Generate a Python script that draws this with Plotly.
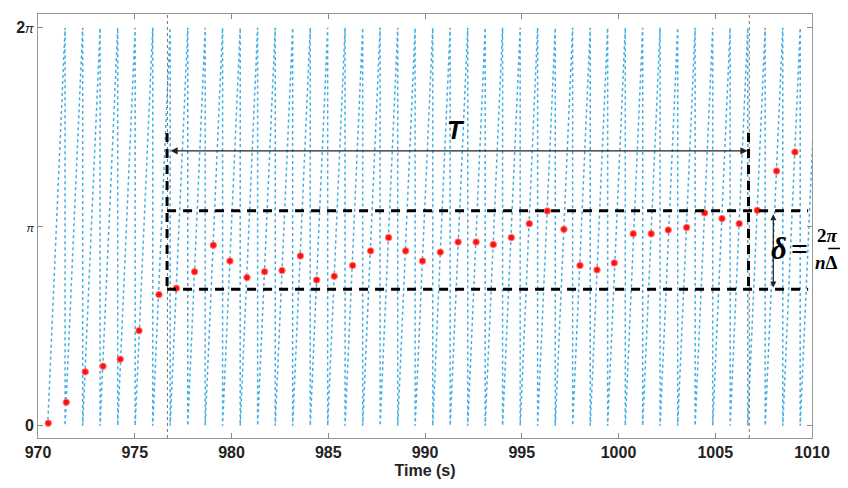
import math
import plotly.graph_objects as go

# times (s) where the wrapped phase jumps from 2pi back to 0
wrap_times = [970.50, 971.40, 972.31, 973.21, 974.12, 975.02, 975.93, 976.83,
              977.74, 978.64, 979.54, 980.45, 981.35, 982.26, 983.16, 984.07,
              984.97, 985.87, 986.78, 987.68, 988.59, 989.49, 990.40, 991.30,
              992.21, 993.11, 994.01, 994.92, 995.82, 996.73, 997.63, 998.54,
              999.44, 1000.35, 1001.25, 1002.15, 1003.06, 1003.96, 1004.87,
              1005.77, 1006.68, 1007.58, 1008.49, 1009.39, 1010.29]

# sampled phase (red points)
dot_t = [970.53, 971.46, 972.44, 973.36, 974.25, 975.22, 976.25, 977.15, 978.09,
         979.06, 979.92, 980.80, 981.71, 982.61, 983.56, 984.40, 985.31, 986.26,
         987.19, 988.12, 989.00, 989.87, 990.79, 991.71, 992.64, 993.53, 994.46,
         995.39, 996.32, 997.18, 998.01, 998.89, 999.78, 1000.76, 1001.69,
         1002.57, 1003.52, 1004.45, 1005.35, 1006.24, 1007.17, 1008.17, 1009.12]
dot_phase = [0.04, 0.37, 0.85, 0.94, 1.05, 1.50, 2.07, 2.17, 2.43, 2.85, 2.60,
             2.34, 2.43, 2.45, 2.68, 2.30, 2.36, 2.53, 2.76, 2.97, 2.76, 2.60,
             2.74, 2.90, 2.90, 2.86, 2.97, 3.19, 3.39, 3.10, 2.53, 2.46, 2.57,
             3.03, 3.03, 3.09, 3.13, 3.36, 3.27, 3.19, 3.40, 4.02, 4.32]

x_ticks = [970, 975, 980, 985, 990, 995, 1000, 1005, 1010]
y_tick_vals = [0, math.pi, 2 * math.pi]
y_tick_text = ["<b>0</b>", "<i style='font-size:11px'>π</i>",
               "<b>2</b><i style='font-size:13px'>π</i>"]

# annotation geometry
T_start, T_end = 976.67, 1006.72
band_low, band_high = 2.153, 3.394
box_top = 4.62
arrow_y = 4.34
delta_x = 1008.0

TWO_PI = 2 * math.pi

# build sawtooth (wrapped phase drawn as one dotted line)
saw_x = [wrap_times[0]]
saw_y = [0]
for t in wrap_times[1:]:
    saw_x += [t, t]
    saw_y += [TWO_PI, 0]
saw_x = saw_x[:-1]
saw_y = saw_y[:-1]

fig = go.Figure()
fig.add_trace(go.Scatter(x=saw_x, y=saw_y, mode="lines",
                         line=dict(color="rgba(35,160,222,0.85)", width=1.5, dash="dot"),
                         hoverinfo="skip", showlegend=False))
fig.add_trace(go.Scatter(x=dot_t, y=dot_phase, mode="markers",
                         marker=dict(color="#ff1010", size=6.5,
                                     line=dict(color="#ff8080", width=1)),
                         showlegend=False))

# thin gray dotted reference lines
for xv in [T_start + 0.02, T_end + 0.04]:
    fig.add_shape(type="line", x0=xv, x1=xv, y0=0, y1=1, xref="x", yref="paper",
                  line=dict(color="#777777", width=1, dash="dot"))

thick = dict(color="black", width=3, dash="9px,7px")
fig.add_shape(type="line", x0=T_start, x1=T_start, y0=box_top, y1=band_low, line=thick)
fig.add_shape(type="line", x0=T_end, x1=T_end, y0=box_top, y1=band_low, line=thick)
fig.add_shape(type="line", x0=T_start, x1=1009.8, y0=band_high, y1=band_high, line=thick)
fig.add_shape(type="line", x0=T_start, x1=1009.8, y0=band_low, y1=band_low, line=thick)

# T arrow
fig.add_annotation(x=T_end - 0.05, y=arrow_y, ax=T_start + 0.1, ay=arrow_y,
                   xref="x", yref="y", axref="x", ayref="y", text="",
                   showarrow=True, arrowhead=2, arrowside="end+start",
                   arrowsize=1.2, arrowwidth=1.2, arrowcolor="#222222")
fig.add_annotation(x=991.6, y=4.67, text="<b><i>T</i></b>", showarrow=False,
                   font=dict(family="Liberation Sans", size=25, color="black"))

# delta arrow
fig.add_annotation(x=delta_x, y=band_low + 0.03, ax=delta_x, ay=band_high - 0.03,
                   xref="x", yref="y", axref="x", ayref="y", text="",
                   showarrow=True, arrowhead=2, arrowside="end+start",
                   arrowsize=1, arrowwidth=1.2, arrowcolor="#222222")

# delta formula, placed in paper coords (right margin)
serif = dict(family="Liberation Serif", color="black")
fig.add_annotation(x=0.970, y=0.446, xref="paper", yref="paper", text="<b><i>δ</i></b>",
                   showarrow=False, font=dict(size=31, **serif))
fig.add_annotation(x=0.998, y=0.447, xref="paper", yref="paper", text="<b>=</b>",
                   showarrow=False, font=dict(size=30, **serif))
fig.add_annotation(x=1.036, y=0.478, xref="paper", yref="paper", text="<b>2<i>π</i></b>",
                   showarrow=False, font=dict(size=19, **serif))
fig.add_annotation(x=1.036, y=0.414, xref="paper", yref="paper", text="<b><i>n</i>Δ</b>",
                   showarrow=False, font=dict(size=19, **serif))
fig.add_shape(type="line", x0=1.021, x1=1.051, y0=0.447, y1=0.447,
              xref="paper", yref="paper", line=dict(color="black", width=1.5))

fig.update_xaxes(range=[970, 1010], tickvals=x_ticks, ticks="inside", ticklen=5,
                 tickcolor="#888888", showline=True, linecolor="#999999",
                 linewidth=1, mirror="ticks", showgrid=False, zeroline=False,
                 automargin=False,
                 tickfont=dict(family="Liberation Sans", size=16, color="#222222",
                               weight="bold"),
                 title=dict(text="<b>Time (s)</b>", standoff=4,
                            font=dict(family="Liberation Sans", size=16, color="#222222")))
fig.update_yaxes(range=[-0.194, 6.5], tickvals=y_tick_vals, ticktext=y_tick_text,
                 ticks="inside", ticklen=5, tickcolor="#888888", showline=True,
                 linecolor="#999999", linewidth=1, mirror="ticks", showgrid=False,
                 zeroline=False, automargin=False,
                 tickfont=dict(family="Liberation Sans", size=16, color="#222222"))
# margins offset by the 8px page margin around the plot div
fig.update_layout(width=848, height=488, plot_bgcolor="white", paper_bgcolor="white",
                  margin=dict(l=30, r=44, t=6, b=58), showlegend=False)

fig.write_html("out.html")
